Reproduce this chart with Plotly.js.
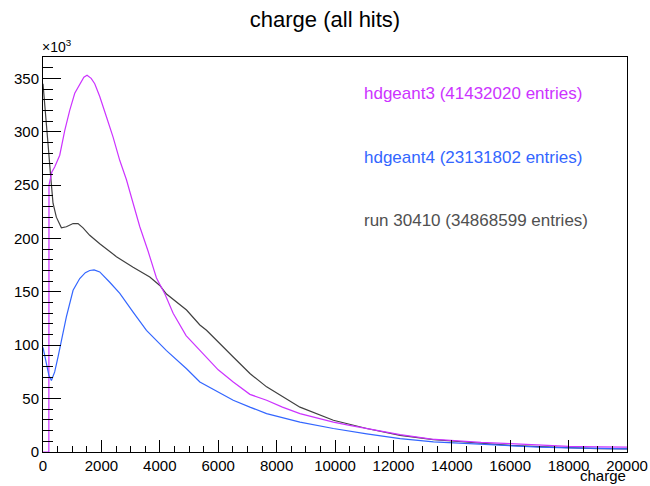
<!DOCTYPE html>
<html>
<head>
<meta charset="utf-8">
<script src="https://cdn.plot.ly/plotly-3.0.1.min.js"></script>
<style>html,body{margin:0;padding:0;background:#fff;}#chart{width:650px;height:486px;}</style>
</head>
<body>
<div id="chart"></div>
<script>
// hdgeant3 (values in units of 10^3)
const g3Charge = [0,200,205,300,400,573,744,915,1087,1258,1400,1508,1650,1772,1943,2172,2400,2630,2858,3086,3315,3600,3886,4175,4457,4900,5372,6000,6515,7086,7658,8200,8800,9400,9944,10500,11087,11700,12230,13300,14000,15000,16000,17000,18000,19000,20000];
const g3Counts = [0,0,250,262,267,278,301,320,336,345,351,353,350,345,333,314,295,273,255,233,211,188,163,148,130,109,95,77,65.6,54,48.5,42,36,31.5,28,25,22,19,16.3,12,10.5,9,7.9,6.5,5.3,4.8,4.5];
// hdgeant4
const g4Charge = [0,100,200,288,400,515,630,800,1030,1258,1450,1600,1750,1943,2286,2630,3086,3543,4229,4916,5372,6515,7086,7658,8800,9944,11087,12230,13372,14000,15000,16000,17000,18000,19000,20000];
const g4Counts = [98,85,72,67,75,89,105,126.5,151.5,162.5,168,170,170.5,168.7,159,148.5,131,114,95,78,65.6,48.5,42,36,28,22,17,12.5,9.4,8.5,7,5.6,4.6,3.8,3.3,3];
// run 30410
const dataCharge = [0,40,80,171,254,343,457,630,800,1030,1200,1371,1600,1943,2515,3086,3657,4000,4229,4916,5372,5600,6515,7086,7658,8800,9944,11087,12230,13372,14000,15000,16000,17000,18000,19000,20000];
const dataCounts = [345,330,320,289,261,233,220,210,211,214,214,210,203,195,183,173,164,156,148,133,119,114,89,73.5,61,42,29.7,22,15.6,11.6,10.3,8,6.2,5,3.8,3.2,3];

const legendLabels = ["hdgeant3 (41432020 entries)","hdgeant4 (23131802 entries)","run 30410 (34868599 entries)"];
const yTickVals = [0,50,100,150,200,250,300,350];
const xTickVals = [0,2000,4000,6000,8000,10000,12000,14000,16000,18000,20000];

const colG3 = "#cc33ff", colG4 = "#3366ff", colData = "#404040";
const font = "Liberation Sans, Arial, sans-serif";

const traces = [
  {x: dataCharge, y: dataCounts, mode: "lines", line: {color: colData, width: 1.2}, hoverinfo: "skip"},
  {x: g3Charge, y: g3Counts, mode: "lines", line: {color: colG3, width: 1.2}, hoverinfo: "skip"},
  {x: g4Charge, y: g4Counts, mode: "lines", line: {color: colG4, width: 1.2}, hoverinfo: "skip"}
];

const layout = {
  width: 650, height: 486,
  margin: {l: 43, r: 23, t: 57, b: 34},
  paper_bgcolor: "#fff", plot_bgcolor: "#fff",
  showlegend: false,
  font: {family: font, size: 15, color: "#000"},
  title: {text: "charge (all hits)", x: 0.5, xanchor: "center", y: 0.96, yanchor: "middle", font: {family: font, size: 22, color: "#000"}},
  xaxis: {
    range: [0, 20000], tickvals: xTickVals, ticktext: xTickVals.map(String),
    showgrid: false, zeroline: false, showline: true, linecolor: "#000", linewidth: 1, mirror: true,
    ticks: "inside", ticklen: 12, tickcolor: "#000", tickwidth: 1,
    minor: {dtick: 500, tick0: 0, ticks: "inside", ticklen: 6, tickcolor: "#000", showgrid: false},
    tickfont: {family: font, size: 15, color: "#000"}
  },
  yaxis: {
    range: [0, 370], tickvals: yTickVals, ticktext: yTickVals.map(String),
    showgrid: false, zeroline: false, showline: true, linecolor: "#000", linewidth: 1, mirror: true,
    ticks: "inside", ticklen: 18, tickcolor: "#000", tickwidth: 1,
    minor: {dtick: 10, tick0: 0, ticks: "inside", ticklen: 10, tickcolor: "#000", showgrid: false},
    tickfont: {family: font, size: 15, color: "#000"}
  },
  annotations: [
    {xref: "paper", yref: "paper", x: 0, y: 1, xanchor: "left", yanchor: "bottom", xshift: -3, text: "×10<sup>3</sup>", showarrow: false, font: {family: font, size: 14, color: "#000"}},
    {xref: "paper", yref: "paper", x: 1, y: 0, xanchor: "right", yanchor: "bottom", yshift: -33, borderpad: 0, text: "charge", showarrow: false, font: {family: font, size: 15, color: "#000"}},
    {xref: "paper", yref: "paper", x: (362-43)/584, y: (452-93)/395, xanchor: "left", yanchor: "middle", text: legendLabels[0], showarrow: false, font: {family: font, size: 17, color: colG3}},
    {xref: "paper", yref: "paper", x: (362-43)/584, y: (452-157)/395, xanchor: "left", yanchor: "middle", text: legendLabels[1], showarrow: false, font: {family: font, size: 17, color: colG4}},
    {xref: "paper", yref: "paper", x: (362-43)/584, y: (452-220)/395, xanchor: "left", yanchor: "middle", text: legendLabels[2], showarrow: false, font: {family: font, size: 17, color: "#505050"}}
  ]
};

Plotly.newPlot("chart", traces, layout, {staticPlot: true, displayModeBar: false});
</script>
</body>
</html>
